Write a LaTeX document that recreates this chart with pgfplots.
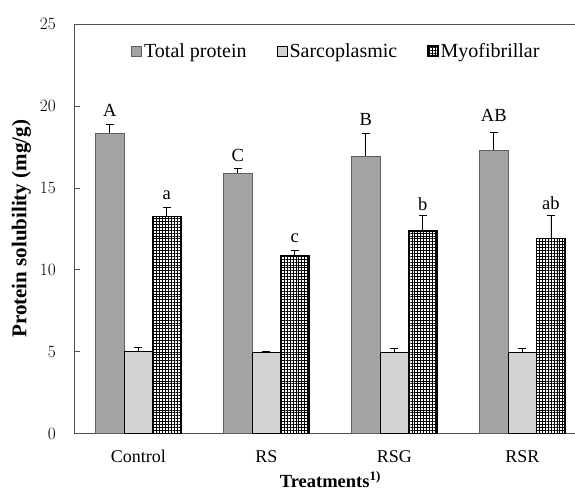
\documentclass[border=0pt]{standalone}
\usepackage{pgfplots}
\pgfplotsset{compat=1.18}
\usepackage{pgfplotstable}
\usepackage{fontspec}
\setmainfont{Liberation Serif}
\usetikzlibrary{patterns.meta,calc}

\definecolor{tpfill}{RGB}{164,164,164}
\definecolor{tpline}{RGB}{95,95,95}
\definecolor{axisgray}{RGB}{80,80,80}

% means, upper error (SD)
\pgfplotstableread{
x  total  terr  sarco  serr  myo   merr
0  18.32  0.56  5.00   0.24  13.27 0.55
1  15.88  0.30  4.96   0.08  10.85 0.35
2  16.93  1.42  4.94   0.24  12.36 0.97
3  17.30  1.11  4.94   0.24  11.93 1.40
}\datatable

\begin{document}
\begin{tikzpicture}
\begin{axis}[
    scale only axis,
    width=512pt, height=409.7pt,
    xmin=-0.5, xmax=3.5,
    ymin=0, ymax=25,
    ytick={0,5,...,25},
    xtick={0,1,2,3},
    xticklabels={Control,RS,RSG,RSR},
    major x tick style={draw=none},
    extra x ticks={0.5,1.5,2.5},
    extra x tick labels={},
    extra x tick style={major tick length=5pt, tick style={draw=axisgray, line width=0.7pt}},
    tick align=inside,
    major tick length=6pt,
    tick style={axisgray, line width=0.7pt},
    axis line style={axisgray, line width=0.9pt},
    ticklabel style={font=\fontsize{18}{20}\selectfont},
    xticklabel style={yshift=-13pt},
    yticklabel style={xshift=-15pt},
    ylabel={\textbf{Protein solubility (mg/g)}},
    ylabel style={font=\fontsize{21}{23}\selectfont, yshift=2pt},
    xlabel={\textbf{Treatments\textsuperscript{1)}}},
    xlabel style={font=\fontsize{18.5}{20}\selectfont, yshift=-2pt},
    bar width=0.223,
    legend style={at={(0.512,0.934)}, anchor=center, draw=none, fill=none,
        legend columns=3, font=\fontsize{20}{22}\selectfont,
        /tikz/every even column/.append style={column sep=28pt}},
    legend image code/.code={\draw[#1] (0pt,-5pt) rectangle (10pt,5pt);},
    error bars/y dir=plus,
    error bars/y explicit,
    error bars/error bar style={black, line width=0.7pt},
    error bars/error mark options={rotate=90, mark size=4pt, line width=0.7pt},
]
\addplot[ybar, bar shift=0pt, fill=tpfill, draw=tpline, line width=0.7pt]
    table[x expr=\thisrow{x}-0.223, y=total, y error=terr] {\datatable};
\addplot[ybar, bar shift=0pt, draw=black, line width=1pt,
    pattern={Dots[distance=2pt, radius=0.55pt]}, pattern color=black!75]
    table[x=x, y=sarco, y error=serr] {\datatable};
\addplot[ybar, bar shift=0pt, draw=black, line width=1.3pt,
    pattern={Hatch[angle=0, distance=2.9pt, line width=0.6pt]}, pattern color=black]
    table[x expr=\thisrow{x}+0.223, y=myo, y error=merr] {\datatable};
\legend{Total protein, Sarcoplasmic, Myofibrillar}

\begin{scope}[every node/.style={font=\fontsize{18.5}{20}\selectfont}]
\node at (axis cs:-0.223,19.7) {A};
\node at (axis cs:0.777,17.0) {C};
\node at (axis cs:1.777,19.17) {B};
\node at (axis cs:2.777,19.43) {AB};
\node at (axis cs:0.223,14.55) {a};
\node at (axis cs:1.223,11.9) {c};
\node at (axis cs:2.223,14.0) {b};
\node at (axis cs:3.223,14.05) {ab};
\end{scope}
\end{axis}
\pgfresetboundingbox
\path ($(current axis.south west)+(-74.3pt,-60.3pt)$) rectangle ++(575pt,494pt);
\end{tikzpicture}
\end{document}
